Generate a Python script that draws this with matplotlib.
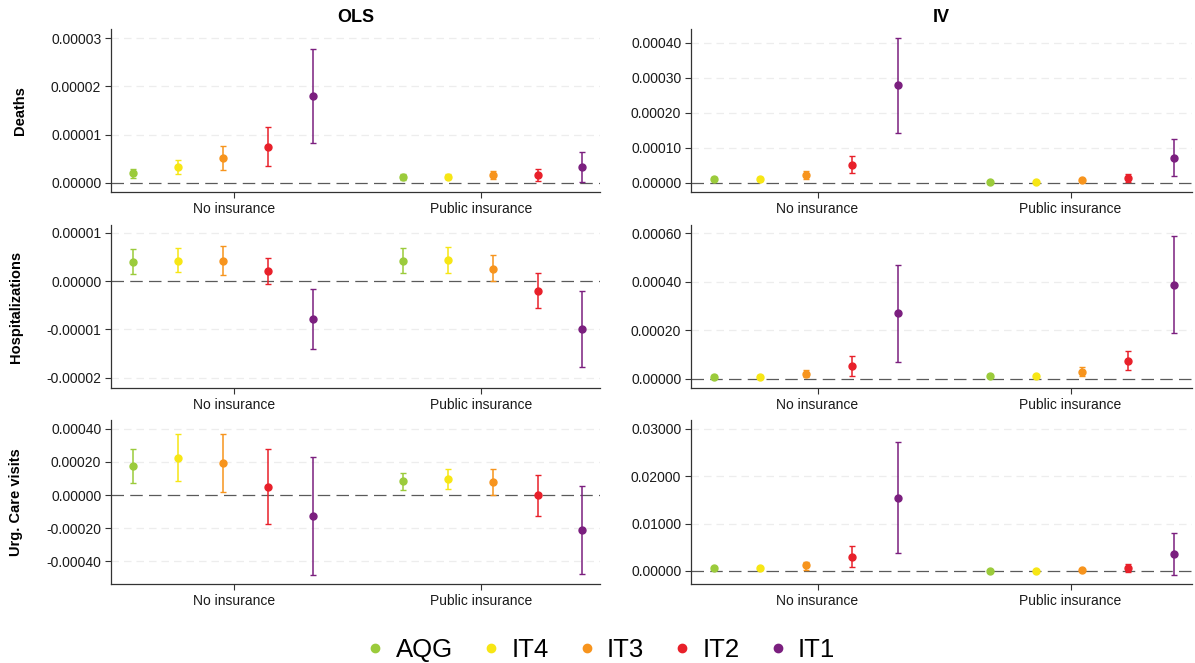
import matplotlib
matplotlib.use("Agg")
import matplotlib.pyplot as plt
from matplotlib.lines import Line2D
import numpy as np

plt.rcParams["font.family"] = ["Liberation Sans", "DejaVu Sans"]

# Air-quality standards (series) and their colours
standards = ["AQG", "IT4", "IT3", "IT2", "IT1"]
colors = ["#9BCB3B", "#F7E614", "#F7941D", "#E8202A", "#7B1F7F"]

groups = ["No insurance", "Public insurance"]
outcomes = ["Deaths", "Hospitalizations", "Urg. Care visits"]
methods = ["OLS", "IV"]

# Estimates, lower and upper CI bounds: [group][standard]
deaths_ols = [[1.94e-6, 3.3e-6, 5.2e-6, 7.5e-6, 1.80e-5],
              [1.3e-6, 1.3e-6, 1.6e-6, 1.7e-6, 3.3e-6]]
deaths_ols_lo = [[1.1e-6, 1.9e-6, 2.7e-6, 3.5e-6, 8.3e-6],
                 [0.6e-6, 0.7e-6, 0.8e-6, 0.4e-6, 0.2e-6]]
deaths_ols_hi = [[2.8e-6, 4.8e-6, 7.7e-6, 1.15e-5, 2.77e-5],
                 [1.9e-6, 1.9e-6, 2.4e-6, 2.8e-6, 6.4e-6]]

deaths_iv = [[1.24e-5, 1.15e-5, 2.3e-5, 5.25e-5, 2.80e-4],
             [0.3e-5, 0.3e-5, 0.7e-5, 1.4e-5, 7.2e-5]]
deaths_iv_lo = [[0.7e-5, 0.6e-5, 1.1e-5, 2.8e-5, 1.44e-4],
                [0.0e-5, 0.0e-5, 0.3e-5, 0.4e-5, 1.9e-5]]
deaths_iv_hi = [[1.8e-5, 1.7e-5, 3.4e-5, 7.7e-5, 4.15e-4],
                [0.6e-5, 0.6e-5, 1.0e-5, 2.5e-5, 1.25e-4]]

hosp_ols = [[4.0e-6, 4.2e-6, 4.2e-6, 2.1e-6, -7.9e-6],
            [4.2e-6, 4.3e-6, 2.6e-6, -2.0e-6, -9.9e-6]]
hosp_ols_lo = [[1.5e-6, 1.8e-6, 1.2e-6, -0.5e-6, -1.41e-5],
               [1.7e-6, 1.7e-6, 0.0e-6, -5.6e-6, -1.77e-5]]
hosp_ols_hi = [[6.6e-6, 6.9e-6, 7.2e-6, 4.7e-6, -1.7e-6],
               [6.8e-6, 7.0e-6, 5.3e-6, 1.7e-6, -2.1e-6]]

hosp_iv = [[1.0e-5, 1.0e-5, 2.2e-5, 5.3e-5, 2.70e-4],
           [1.4e-5, 1.2e-5, 3.0e-5, 7.5e-5, 3.87e-4]]
hosp_iv_lo = [[0.5e-5, 0.5e-5, 0.7e-5, 1.4e-5, 0.71e-4],
              [0.8e-5, 0.7e-5, 1.4e-5, 3.6e-5, 1.89e-4]]
hosp_iv_hi = [[1.5e-5, 1.5e-5, 3.8e-5, 9.3e-5, 4.70e-4],
              [1.9e-5, 1.8e-5, 4.8e-5, 11.5e-5, 5.86e-4]]

urg_ols = [[1.73e-4, 2.25e-4, 1.91e-4, 0.50e-4, -1.29e-4],
           [0.82e-4, 0.96e-4, 0.80e-4, -0.02e-4, -2.09e-4]]
urg_ols_lo = [[0.72e-4, 0.82e-4, 0.16e-4, -1.77e-4, -4.84e-4],
              [0.28e-4, 0.38e-4, 0.02e-4, -1.29e-4, -4.74e-4]]
urg_ols_hi = [[2.75e-4, 3.66e-4, 3.66e-4, 2.79e-4, 2.29e-4],
              [1.35e-4, 1.57e-4, 1.57e-4, 1.23e-4, 0.54e-4]]

urg_iv = [[0.00056, 0.00056, 0.0012, 0.0030, 0.01546],
          [0.00007, 0.00007, 0.0002, 0.0006, 0.0036]]
urg_iv_lo = [[0.0002, 0.0002, 0.0003, 0.0008, 0.0037],
             [0.0000, 0.0000, 0.0000, -0.0002, -0.0008]]
urg_iv_hi = [[0.0009, 0.0009, 0.0020, 0.0052, 0.0272],
             [0.0001, 0.0001, 0.0004, 0.0015, 0.0080]]

panels = {
    ("Deaths", "OLS"): (deaths_ols, deaths_ols_lo, deaths_ols_hi),
    ("Deaths", "IV"): (deaths_iv, deaths_iv_lo, deaths_iv_hi),
    ("Hospitalizations", "OLS"): (hosp_ols, hosp_ols_lo, hosp_ols_hi),
    ("Hospitalizations", "IV"): (hosp_iv, hosp_iv_lo, hosp_iv_hi),
    ("Urg. Care visits", "OLS"): (urg_ols, urg_ols_lo, urg_ols_hi),
    ("Urg. Care visits", "IV"): (urg_iv, urg_iv_lo, urg_iv_hi),
}

# y ticks and limits per panel
yticks = {
    ("Deaths", "OLS"): [0, 1e-5, 2e-5, 3e-5],
    ("Deaths", "IV"): [0, 1e-4, 2e-4, 3e-4, 4e-4],
    ("Hospitalizations", "OLS"): [-2e-5, -1e-5, 0, 1e-5],
    ("Hospitalizations", "IV"): [0, 2e-4, 4e-4, 6e-4],
    ("Urg. Care visits", "OLS"): [-4e-4, -2e-4, 0, 2e-4, 4e-4],
    ("Urg. Care visits", "IV"): [0, 0.01, 0.02, 0.03],
}
ylims = {
    ("Deaths", "OLS"): (-1.9e-6, 3.19e-5),
    ("Deaths", "IV"): (-2.6e-5, 4.4e-4),
    ("Hospitalizations", "OLS"): (-2.21e-5, 1.16e-5),
    ("Hospitalizations", "IV"): (-3.7e-5, 6.33e-4),
    ("Urg. Care visits", "OLS"): (-5.36e-4, 4.52e-4),
    ("Urg. Care visits", "IV"): (-0.00275, 0.0319),
}

W, H = 1195, 663
fig = plt.figure(figsize=(W / 100, H / 100), dpi=100)

col_x = [(111, 600), (691, 1192)]
row_y = [(29, 192), (225, 388), (420, 584)]

dodge = 0.182
group_shift = [-0.045, 0.045]
tick_pos = [1.0, 2.0]
offsets = (np.arange(len(standards)) - 2) * dodge

for r, outcome in enumerate(outcomes):
    for c, method in enumerate(methods):
        x0, x1 = col_x[c]
        yt, yb = row_y[r]
        ax = fig.add_axes([x0 / W, (H - yb) / H, (x1 - x0) / W, (yb - yt) / H])
        est, lo, hi = panels[(outcome, method)]
        ax.set_ylim(*ylims[(outcome, method)])
        ax.set_xlim(0.5, 2.48)
        for t in yticks[(outcome, method)]:
            if t != 0:
                ax.axhline(t, color="#EDEDED", lw=0.9, ls=(0, (6, 4)), zorder=0)
        ax.axhline(0, color="#5A5A5A", lw=0.9, ls=(0, (10, 5)), zorder=1)
        for g in range(len(groups)):
            for s in range(len(standards)):
                x = tick_pos[g] + group_shift[g] + offsets[s]
                y = est[g][s]
                ax.errorbar([x], [y],
                            yerr=[[y - lo[g][s]], [hi[g][s] - y]],
                            fmt="o", color=colors[s], ms=5, capsize=2.2,
                            elinewidth=1.1, capthick=1.0, zorder=3)
        ax.set_yticks(yticks[(outcome, method)])
        ax.set_yticklabels([f"{t:.5f}" for t in yticks[(outcome, method)]])
        ax.set_xticks(tick_pos)
        ax.set_xticklabels(groups)
        ax.tick_params(axis="both", labelsize=10, color="#333333",
                       labelcolor="#1a1a1a", length=4, width=0.8, pad=3)
        for side in ("top", "right"):
            ax.spines[side].set_visible(False)
        for side in ("left", "bottom"):
            ax.spines[side].set_color("#333333")
            ax.spines[side].set_linewidth(0.9)
        if c == 0:
            ax.set_ylabel(outcome, fontsize=10.5, fontweight="bold", labelpad=17)
        if r == 0:
            ax.set_title(method, fontsize=13, fontweight="bold", pad=5)

handles = [Line2D([], [], marker="o", ls="", color=col, ms=6) for col in colors]
fig.legend(handles, standards, loc="center", bbox_to_anchor=(599 / W, (H - 650) / H),
           ncol=5, frameon=False, fontsize=18.5, handlelength=1.0,
           handletextpad=0.3, columnspacing=0.97, borderaxespad=0)

fig.savefig("out.png", dpi=100)
